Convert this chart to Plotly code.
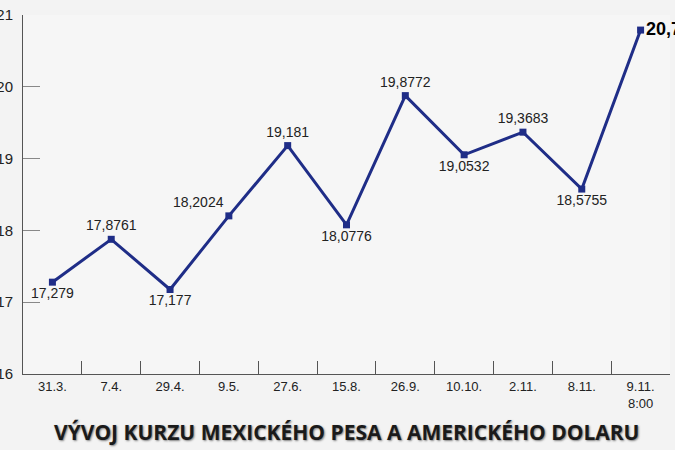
import plotly.graph_objects as go

categories = ["31.3.", "7.4.", "29.4.", "9.5.", "27.6.", "15.8.", "26.9.", "10.10.", "2.11.", "8.11.", "9.11.<br>8:00"]
values = [17.279, 17.8761, 17.177, 18.2024, 19.181, 18.0776, 19.8772, 19.0532, 19.3683, 18.5755, 20.79]
labels = ["17,279", "17,8761", "17,177", "18,2024", "19,181", "18,0776", "19,8772", "19,0532", "19,3683", "18,5755", "20,79"]
positions = ["bottom center", "top center", "bottom center", "top left", "top center", "bottom center",
             "top center", "bottom center", "top center", "bottom center", "middle right"]
title_text = "VÝVOJ KURZU MEXICKÉHO PESA A AMERICKÉHO DOLARU"

line_color = "#1f2d87"
text_colors = ["#222222"] * (len(values) - 1) + ["#000000"]
text_sizes = [14] * (len(values) - 1) + [18]

fig = go.Figure()
fig.add_trace(go.Scatter(
    x=categories, y=values,
    mode="lines+markers+text",
    line=dict(color=line_color, width=3),
    marker=dict(symbol="square", size=7, color=line_color),
    text=[l if i < len(labels) - 1 else "<b>" + l + "</b>" for i, l in enumerate(labels)],
    textposition=positions,
    textfont=dict(family="Liberation Sans, Arial", size=text_sizes, color=text_colors),
    cliponaxis=False,
    hoverinfo="skip",
))

fig.update_layout(
    width=675, height=450,
    margin=dict(l=23, r=5, t=15, b=76),
    paper_bgcolor="#f3f3f3",
    plot_bgcolor="#f6f6f6",
    showlegend=False,
    font=dict(family="Liberation Sans, Arial", color="#222222"),
)
fig.update_xaxes(
    type="category", range=[-0.5, 10.5], automargin=False,
    showgrid=False, zeroline=False,
    showline=True, linecolor="#555555", linewidth=1,
    ticks="inside", ticklen=13, tickcolor="#555555", tickson="boundaries",
    tickfont=dict(size=13, color="#222222"),
)
fig.update_yaxes(
    range=[16, 21], dtick=1, automargin=False,
    showgrid=False, zeroline=False,
    showline=True, linecolor="#555555", linewidth=1,
    ticks="inside", ticklen=17, tickcolor="#888888",
    tickfont=dict(size=15, color="#222222"),
    ticklabelstandoff=6,
)

# title with drop shadow
fig.add_annotation(text="<b>" + title_text + "</b>", xref="paper", yref="paper",
                   x=0.5, y=-0.162, xanchor="center", yanchor="middle", showarrow=False,
                   font=dict(family="Open Sans", size=21, color="#1a1a1a",
                             shadow="1px 1px 2px rgba(80,80,80,0.7)"))

fig.write_html("out.html", config={"displayModeBar": False},
               post_script="document.body.style.margin='0';")
